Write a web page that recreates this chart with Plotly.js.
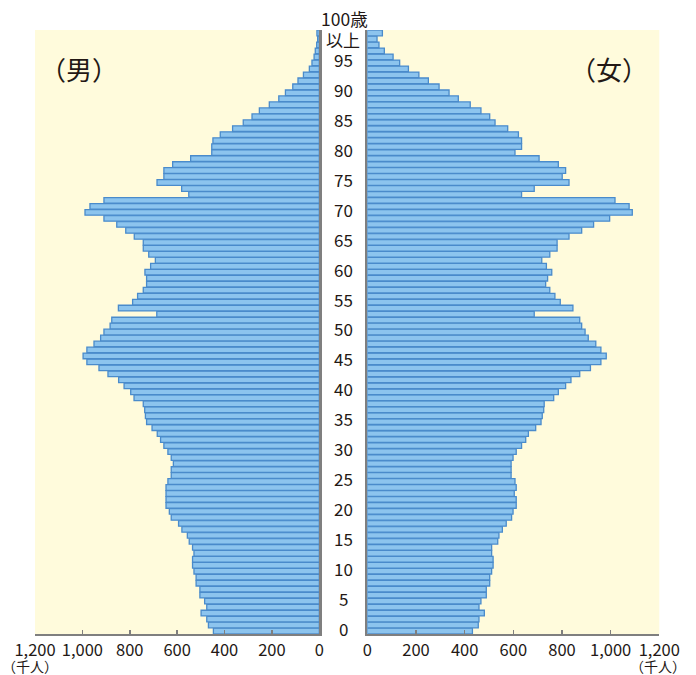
<!DOCTYPE html>
<html>
<head>
<meta charset="utf-8">
<script src="https://cdn.plot.ly/plotly-3.0.1.min.js"></script>
<style>html,body{margin:0;padding:0;background:#fff;}#chart{width:696px;height:675px;}</style>
</head>
<body>
<div id="chart"></div>
<script>
// Ages 0..99 and "100歳以上" (index 100)
const ages = Array.from({length: 101}, (_, i) => i);

// Male population (thousands), age 0 .. 100+
const male = [
  447,468,475,499,475,484,504,504,520,520,
  529,535,535,529,535,549,557,580,594,625,
  633,647,647,647,647,639,625,625,616,625,
  639,656,670,684,706,729,734,737,743,782,
  796,824,847,892,930,981,997,981,951,923,
  909,883,876,686,848,788,767,743,729,729,
  736,712,692,720,743,743,781,817,855,909,
  989,968,909,551,581,685,656,656,619,543,
  454,454,449,418,366,321,284,253,211,171,
  143,112,90,67,42,31,22,17,11,7,
  10
];

// Female population (thousands), age 0 .. 100+
const female = [
  432,456,459,481,459,467,489,489,503,503,
  511,517,517,511,511,536,541,555,571,593,
  599,612,612,604,612,607,591,591,591,599,
  612,634,651,662,692,714,719,725,727,766,
  785,815,837,873,917,960,982,960,939,908,
  895,881,873,686,845,793,771,750,733,741,
  758,736,717,750,780,780,829,881,930,996,
  1089,1076,1018,634,686,829,801,815,785,706,
  607,634,634,621,577,525,503,467,423,374,
  336,295,251,212,169,133,106,70,48,40,
  62
];

// Tick labels
const ageTickVals = [0,5,10,15,20,25,30,35,40,45,50,55,60,65,70,75,80,85,90,95];
const ageTickText = ['0','5','10','15','20','25','30','35','40','45','50','55','60','65','70','75','80','85','90','95'];
const topAge = 100;
const topAgeText = ['100歳', '以上'];
const popTickVals = [0,200,400,600,800,1000,1200];
const popTickText = ['0','200','400','600','800','1,000','1,200'];
const unitText = '（千人）';
const maleText = '（男）';
const femaleText = '（女）';

const W = 696, H = 675;
const fontNum = 'Liberation Sans Narrow, Arial Narrow, Noto Sans CJK JP, sans-serif';
const fontJP = 'Noto Sans CJK JP, sans-serif';
const txtColor = '#231815';
const axisGray = '#7f7f7f';
const barFill = '#8cc4ee';
const barLine = '#4a8bcb';

const yTop = 30, yBot = 634;
const yDomain = [1 - yBot / H, 1 - yTop / H];

const traces = [
  {
    type: 'bar', orientation: 'h', x: male, y: ages,
    xaxis: 'x', yaxis: 'y',
    marker: {color: barFill, line: {color: barLine, width: 1.3}},
    hoverinfo: 'x+y'
  },
  {
    type: 'bar', orientation: 'h', x: female, y: ages,
    xaxis: 'x2', yaxis: 'y2',
    marker: {color: barFill, line: {color: barLine, width: 1.3}},
    hoverinfo: 'x+y'
  }
];

const xCommon = {
  showgrid: false, zeroline: false,
  showline: true, linecolor: axisGray, linewidth: 2,
  ticks: 'inside', ticklen: 4, tickwidth: 1.5, tickcolor: axisGray,
  tickmode: 'array', tickvals: popTickVals, ticktext: popTickText,
  tickfont: {family: fontNum, size: 16.5, color: txtColor},
  fixedrange: true
};
const yCommon = {
  range: [-0.5, 100.5], domain: yDomain,
  showgrid: false, zeroline: false, showticklabels: false,
  showline: true, linecolor: axisGray, linewidth: 2.5,
  ticks: '', fixedrange: true
};

const annotations = [];
ageTickVals.forEach((v, i) => {
  annotations.push({
    x: 343.5 / W, xref: 'paper', y: v, yref: 'y',
    text: ageTickText[i], showarrow: false, yshift: 3,
    xanchor: 'center', yanchor: 'middle',
    font: {family: fontNum, size: 17, color: txtColor}
  });
});
annotations.push({
  x: 344 / W, xref: 'paper', y: topAge, yref: 'y',
  text: topAgeText[0], showarrow: false, yshift: 14.5,
  xanchor: 'center', yanchor: 'middle', borderpad: 0,
  font: {family: fontNum, size: 17.5, color: txtColor}
});
annotations.push({
  x: 343 / W, xref: 'paper', y: topAge, yref: 'y',
  text: topAgeText[1], showarrow: false, yshift: -6.5,
  xanchor: 'center', yanchor: 'middle', borderpad: 0,
  font: {family: fontJP, size: 17, color: txtColor}
});
annotations.push({
  x: 30 / W, xref: 'paper', y: 1 - 665.5 / H, yref: 'paper',
  text: unitText, showarrow: false, xanchor: 'center', yanchor: 'middle', borderpad: 0,
  font: {family: fontJP, size: 14, color: txtColor}
});
annotations.push({
  x: 658 / W, xref: 'paper', y: 1 - 665.5 / H, yref: 'paper',
  text: unitText, showarrow: false, xanchor: 'center', yanchor: 'middle', borderpad: 0,
  font: {family: fontJP, size: 14, color: txtColor}
});
annotations.push({
  x: 78.5 / W, xref: 'paper', y: 1 - 68 / H, yref: 'paper',
  text: maleText, showarrow: false, xanchor: 'center', yanchor: 'middle',
  font: {family: fontJP, size: 26, color: txtColor}
});
annotations.push({
  x: 609 / W, xref: 'paper', y: 1 - 68 / H, yref: 'paper',
  text: femaleText, showarrow: false, xanchor: 'center', yanchor: 'middle',
  font: {family: fontJP, size: 26, color: txtColor}
});

const layout = {
  width: W, height: H,
  margin: {l: 0, r: 0, t: 0, b: 0, pad: 0},
  paper_bgcolor: '#ffffff',
  plot_bgcolor: '#fffbdc',
  showlegend: false,
  bargap: 0.06,
  xaxis: Object.assign({}, xCommon, {domain: [35 / W, 319.3 / W], range: [1200, 0], anchor: 'y'}),
  xaxis2: Object.assign({}, xCommon, {domain: [367.3 / W, 659.3 / W], range: [0, 1200], anchor: 'y2'}),
  yaxis: Object.assign({}, yCommon, {anchor: 'x', side: 'right'}),
  yaxis2: Object.assign({}, yCommon, {anchor: 'x2', side: 'left'}),
  annotations: annotations
};

Plotly.newPlot('chart', traces, layout, {displayModeBar: false, staticPlot: true});
</script>
</body>
</html>
